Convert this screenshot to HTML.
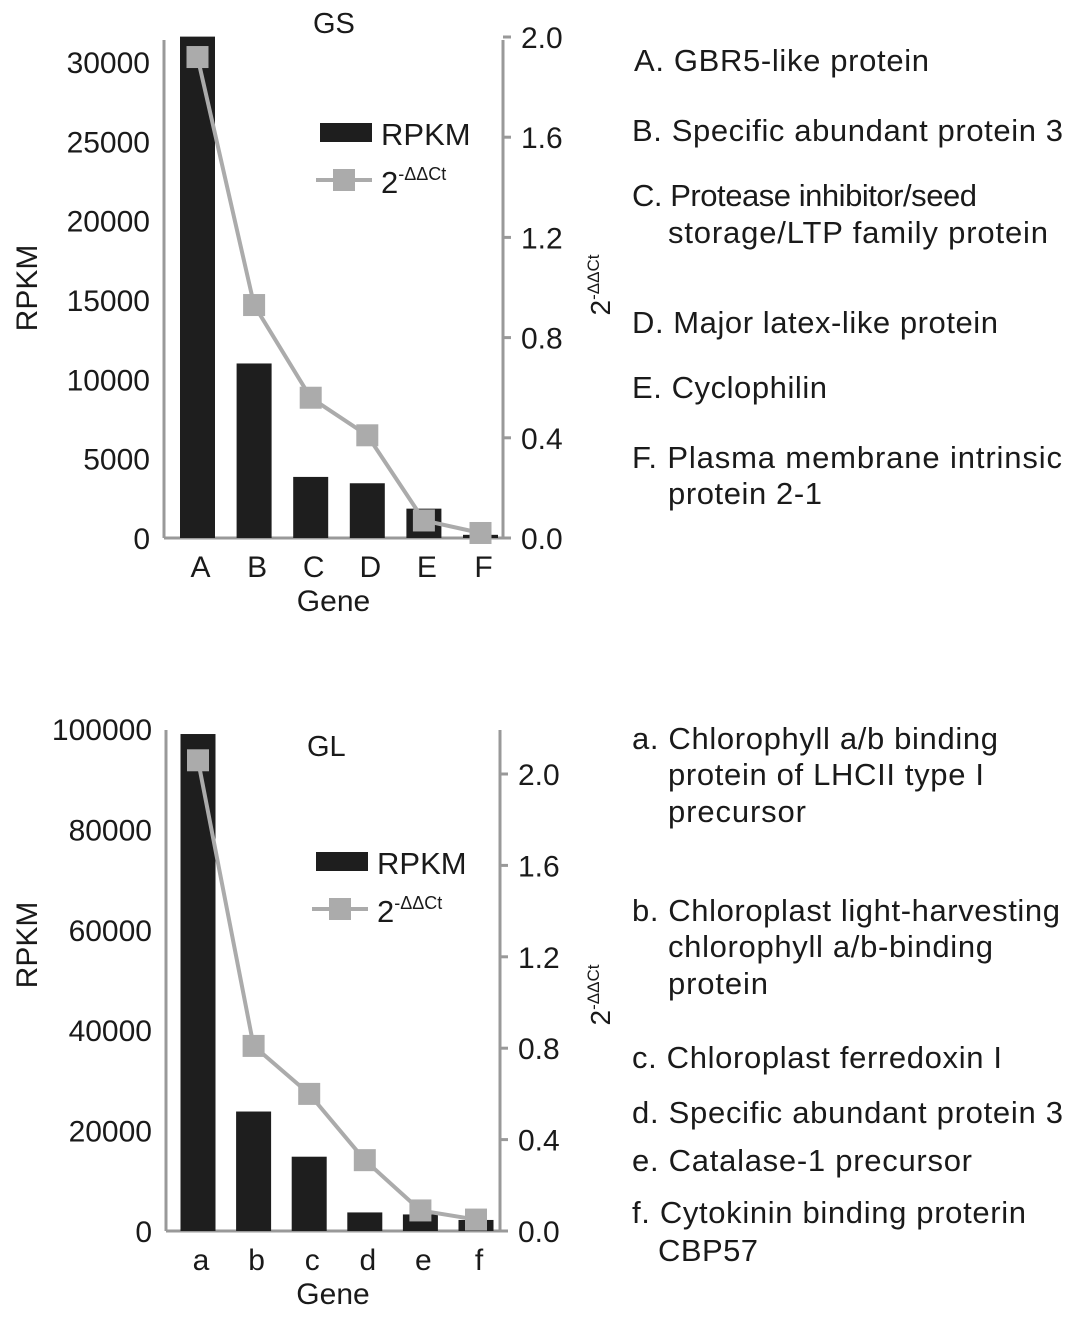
<!DOCTYPE html>
<html><head><meta charset="utf-8"><style>
body{margin:0;background:#fff}
svg{display:block;font-family:"Liberation Sans",Arial,sans-serif}
</style></head><body>
<svg id="s" width="1075" height="1319" viewBox="0 0 1075 1319">
<g id="desc" font-size="31" fill="#1a1a1a">
<text x="634" y="71" textLength="295">A. GBR5-like protein</text>
<text x="632" y="141" textLength="431">B. Specific abundant protein 3</text>
<text x="632" y="206" textLength="345">C. Protease inhibitor/seed</text>
<text x="668" y="243" textLength="380">storage/LTP family protein</text>
<text x="632" y="333" textLength="366">D. Major latex-like protein</text>
<text x="632" y="398" textLength="195">E. Cyclophilin</text>
<text x="632" y="468" textLength="430">F. Plasma membrane intrinsic</text>
<text x="668" y="504" textLength="154">protein 2-1</text>
<text x="632" y="749" textLength="366">a. Chlorophyll a/b binding</text>
<text x="668" y="785" textLength="316">protein of LHCII type I</text>
<text x="668" y="822" textLength="138">precursor</text>
<text x="632" y="921" textLength="428">b. Chloroplast light-harvesting</text>
<text x="668" y="957" textLength="325">chlorophyll a/b-binding</text>
<text x="668" y="994" textLength="100">protein</text>
<text x="632" y="1068" textLength="370">c. Chloroplast ferredoxin I</text>
<text x="632" y="1123" textLength="431">d. Specific abundant protein 3</text>
<text x="632" y="1171" textLength="340">e. Catalase-1 precursor</text>
<text x="632" y="1223" textLength="394">f. Cytokinin binding proterin</text>
<text x="658" y="1261" textLength="100">CBP57</text>
</g>
</svg>
<script>
const gsCats=['A','B','C','D','E','F'];
const gsRpkm=[31600,11000,3850,3450,1850,200];
const gsDdct=[1.92,0.93,0.56,0.41,0.07,0.02];
const gsLeftTicks=[0,5000,10000,15000,20000,25000,30000];
const gsRightTicks=['0.0','0.4','0.8','1.2','1.6','2.0'];
const glCats=['a','b','c','d','e','f'];
const glRpkm=[99000,23800,14800,3700,3300,2200];
const glDdct=[2.06,0.81,0.60,0.31,0.09,0.05];
const glLeftTicks=[0,20000,40000,60000,80000,100000];
const glRightTicks=['0.0','0.4','0.8','1.2','1.6','2.0'];

const NS='http://www.w3.org/2000/svg';
const svg=document.getElementById('s');
function mk(tag,attrs,parent,txt){const e=document.createElementNS(NS,tag);for(const k in attrs)e.setAttribute(k,attrs[k]);if(txt!==undefined)e.textContent=txt;(parent||svg).appendChild(e);return e;}

function chart(o){
  const g=mk('g',{});
  
  
  const yL=v=>o.base-(v/o.lMax)*(o.base-o.lTop);
  const yR=v=>o.base-(v/o.rMax)*(o.base-o.rTop);
  const xC=i=>o.x0+i*o.step;
  const la=mk('line',{x1:o.axL,y1:o.axTop,x2:o.axL,y2:o.base,stroke:'#999','stroke-width':3},g);
  
  const ra=mk('line',{x1:o.axR,y1:o.axTop,x2:o.axR,y2:o.base,stroke:'#999','stroke-width':3},g);
  
  const xa=mk('line',{x1:o.axL,y1:o.base,x2:o.axR+8,y2:o.base,stroke:'#999','stroke-width':3},g);
  
  o.lTicks.forEach(v=>{const t=mk('text',{x:o.axL-14,y:yL(v)+11,'font-size':30,'text-anchor':'end',fill:'#1a1a1a'},g,String(v));
    });
  o.rTicks.forEach(s=>{const v=parseFloat(s);
    const tk=mk('line',{x1:o.axR,y1:yR(v),x2:o.axR+8,y2:yR(v),stroke:'#999','stroke-width':3},g);
    
    const t=mk('text',{x:o.axR+18,y:yR(v)+11,'font-size':30,fill:'#1a1a1a'},g,s);
    });
  o.rpkm.forEach((v,i)=>{const y=yL(v);const b=mk('rect',{x:xC(i)-17.5,y:y,width:35,height:o.base-y,fill:'#1e1e1e'},g);
    });
  const pts=o.ddct.map((v,i)=>xC(i)+','+yR(v)).join(' ');
  const pl=mk('polyline',{points:pts,fill:'none',stroke:'#ababab','stroke-width':4},g);
  
  o.ddct.forEach((v,i)=>{const m=mk('rect',{x:xC(i)-11,y:yR(v)-11,width:22,height:22,fill:'#ababab'},g);
    });
  o.cats.forEach((c,i)=>{const t=mk('text',{x:xC(i)+3,y:o.base+39,'font-size':30,'text-anchor':'middle',fill:'#1a1a1a'},g,c);
    });
  const xt=mk('text',{x:(o.axL+o.axR)/2,y:o.base+73,'font-size':30,'text-anchor':'middle',fill:'#1a1a1a'},g,'Gene');
  
  const ly=mk('text',{x:0,y:0,'font-size':30,'text-anchor':'middle',fill:'#1a1a1a',transform:`translate(37,${o.ltY}) rotate(-90)`},g,'RPKM');
  
  const ry=mk('text',{x:0,y:0,'font-size':28,'text-anchor':'middle',fill:'#1a1a1a',transform:`translate(610,${o.rtY}) rotate(-90)`},g);
  
  mk('tspan',{},ry,'2');mk('tspan',{dy:-11,'font-size':17},ry,'-ΔΔCt');
  const ti=mk('text',{x:o.titleX,y:o.titleY,'font-size':29,fill:'#1a1a1a'},g,o.title);
  
  const lg=mk('g',{},g);
  mk('rect',{x:o.legX,y:o.legY-10,width:52,height:19,fill:'#1e1e1e'},lg);
  mk('text',{x:o.legX+61,y:o.legY+12,'font-size':31,fill:'#1a1a1a'},lg,'RPKM');
  mk('line',{x1:o.legX-4,y1:o.legY+47,x2:o.legX+52,y2:o.legY+47,stroke:'#ababab','stroke-width':4},lg);
  mk('rect',{x:o.legX+13,y:o.legY+36,width:22,height:22,fill:'#ababab'},lg);
  const l2=mk('text',{x:o.legX+61,y:o.legY+60,'font-size':31,fill:'#1a1a1a'},lg);
  mk('tspan',{},l2,'2');mk('tspan',{dy:-13,'font-size':18},l2,'-ΔΔCt');
}
chart({name:'gs-chart',title:'GS',titleX:313,titleY:33,cats:gsCats,rpkm:gsRpkm,ddct:gsDdct,lTicks:gsLeftTicks,rTicks:gsRightTicks,
  base:538,lMax:30000,lTop:62,rMax:2.0,rTop:37,axL:164,axR:503,axTop:40,x0:197.5,step:56.6,legX:320,legY:133,ltY:288,rtY:285});
chart({name:'gl-chart',title:'GL',titleX:307,titleY:756,cats:glCats,rpkm:glRpkm,ddct:glDdct,lTicks:glLeftTicks,rTicks:glRightTicks,
  base:1231,lMax:100000,lTop:729,rMax:2.0,rTop:774,axL:166,axR:500,axTop:730,x0:198,step:55.6,legX:316,legY:862,ltY:945,rtY:995});
</script>
</body></html>
